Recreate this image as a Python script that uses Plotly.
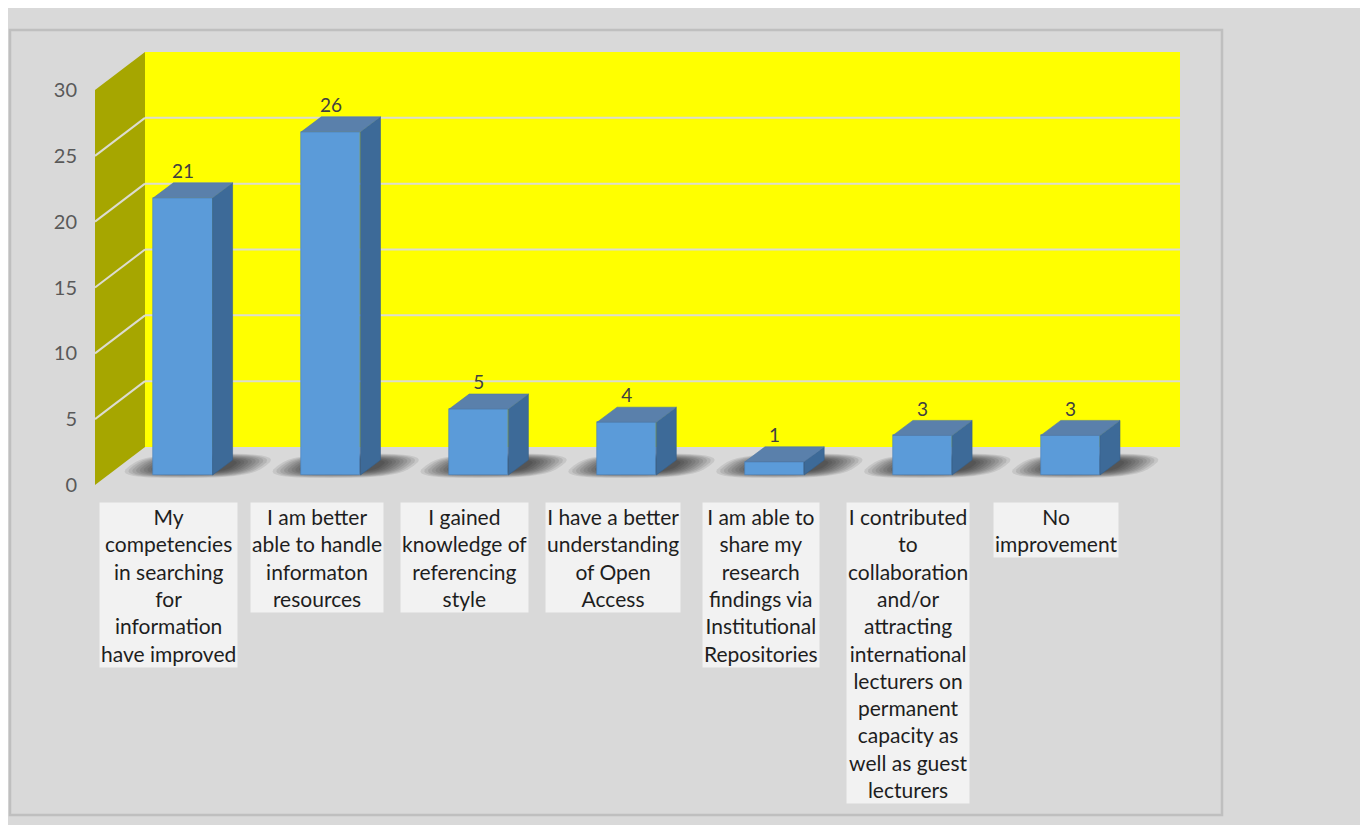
import math
import plotly.graph_objects as go

# ---------------- data ----------------
categories = [
    "My\ncompetencies\nin searching\nfor\ninformation\nhave improved",
    "I am better\nable to handle\ninformaton\nresources",
    "I gained\nknowledge of\nreferencing\nstyle",
    "I have a better\nunderstanding\nof Open\nAccess",
    "I am able to\nshare my\nresearch\nfindings via\nInstitutional\nRepositories",
    "I contributed\nto\ncollaboration\nand/or\nattracting\ninternational\nlecturers on\npermanent\ncapacity as\nwell as guest\nlecturers",
    "No\nimprovement",
]
values = [21, 26, 5, 4, 1, 3, 3]
tick_values = [0, 5, 10, 15, 20, 25, 30]

# ---------------- geometry (layout only) ----------------
W, H, OFF = 1360, 817, 8          # figure size and page body margin
CAT_PX, CAT0_PX = 147.9, 183.0    # px per category, screen px of first category
UNIT_PX, BASE_PX = 13.2, 475.0    # px per value unit, screen px of bar base


def xu(px):
    return (px - CAT0_PX) / CAT_PX


def yu(py):
    return (BASE_PX - py) / UNIT_PX


BAR_W = 0.4
DDX = 20 / CAT_PX
DDY = 15 / UNIT_PX
SHEAR = DDX / DDY

WALL_X0, WALL_X1 = xu(145), xu(1180)
WALL_Y0, WALL_TOP = yu(447), yu(52)
LX, LY0, LY1 = xu(95), yu(485), yu(90)
TMAX = tick_values[-1]
LSTEP = (LY1 - LY0) / TMAX


def wall_y(v):
    return WALL_Y0 + v * (WALL_TOP - WALL_Y0) / TMAX


def left_y(v):
    return LY0 + v * LSTEP


shapes = []
# back wall
shapes.append(dict(type="rect", xref="x", yref="y", x0=WALL_X0, x1=WALL_X1,
                   y0=WALL_Y0, y1=WALL_TOP, fillcolor="#ffff00",
                   line=dict(width=0), layer="below"))
# left wall
shapes.append(dict(type="path", xref="x", yref="y",
                   path=f"M {LX},{LY0} L {WALL_X0},{WALL_Y0} L {WALL_X0},{WALL_TOP} L {LX},{LY1} Z",
                   fillcolor="#a6a600", line=dict(width=0), layer="below"))
# gridlines
for t in tick_values[1:-1]:
    shapes.append(dict(type="line", xref="x", yref="y", x0=WALL_X0, x1=WALL_X1,
                       y0=wall_y(t), y1=wall_y(t),
                       line=dict(color="#dcdcd0", width=2), layer="below"))
    shapes.append(dict(type="line", xref="x", yref="y", x0=LX, x1=WALL_X0,
                       y0=left_y(t), y1=wall_y(t),
                       line=dict(color="#dcdcd0", width=2), layer="below"))


def sheared_blob(cx, cy, rx, ry, n=36, p=3.0):
    pts = []
    for j in range(n):
        a = 2 * math.pi * j / n
        c, s = math.cos(a), math.sin(a)
        ex = rx * math.copysign(abs(c) ** (2 / p), c)
        ey = ry * math.copysign(abs(s) ** (2 / p), s)
        pts.append((cx + ex + SHEAR * ey, cy + ey))
    return "M " + " L ".join(f"{x:.4f},{y:.4f}" for x, y in pts) + " Z"


# soft bar shadows on the floor (layered sheared blobs)
for i, v in enumerate(values):
    for k in range(10):
        rx = 0.46 - k * 0.024
        ry = 0.92 - k * 0.045
        shapes.append(dict(type="path", xref="x", yref="y",
                           path=sheared_blob(i + 0.10, 0.70, rx, ry),
                           fillcolor="rgba(0,0,0,0.085)", line=dict(width=0), layer="below"))
# outer chart border
shapes.append(dict(type="rect", xref="paper", yref="paper",
                   x0=(10 - OFF) / W, x1=(1222 - OFF) / W,
                   y0=1 - (815 - OFF) / H, y1=1 - (30 - OFF) / H,
                   line=dict(color="#bfbfbf", width=2.5), fillcolor="rgba(0,0,0,0)"))

# ---------------- traces ----------------
xs = list(range(len(values)))
fig = go.Figure()
fig.add_trace(go.Bar(x=xs, y=values, width=BAR_W, base=0,
                     marker=dict(color="#5b9bd9", line=dict(color="#4a82bb", width=0.6)),
                     hoverinfo="skip", showlegend=False))

side_x, side_y, top_x, top_y = [], [], [], []
for i, v in enumerate(values):
    xl, xr = i - BAR_W / 2, i + BAR_W / 2
    side_x += [xr, xr + DDX, xr + DDX, xr, xr, None]
    side_y += [0, DDY, v + DDY, v, 0, None]
    top_x += [xl, xr, xr + DDX, xl + DDX, xl, None]
    top_y += [v, v, v + DDY, v + DDY, v, None]

fig.add_trace(go.Scatter(x=side_x, y=side_y, mode="lines", fill="toself",
                         fillcolor="#3d6a98", line=dict(color="#36608a", width=0.6),
                         hoverinfo="skip", showlegend=False))
fig.add_trace(go.Scatter(x=top_x, y=top_y, mode="lines", fill="toself",
                         fillcolor="#5a80ab", line=dict(color="#4f77a3", width=0.6),
                         hoverinfo="skip", showlegend=False))
fig.add_trace(go.Scatter(x=xs, y=[v + DDY for v in values], mode="text",
                         text=[str(v) for v in values], textposition="top center",
                         textfont=dict(family="Lato, sans-serif", size=19, color="#404040"),
                         hoverinfo="skip", showlegend=False))
# invisible anchor trace so the value axis (on the left wall) is rendered
fig.add_trace(go.Scatter(x=[LX] * len(tick_values), y=tick_values, yaxis="y2",
                         mode="markers", marker=dict(opacity=0, size=1),
                         hoverinfo="skip", showlegend=False))

# category labels
annotations = []
for i, c in enumerate(categories):
    annotations.append(dict(x=i - 0.095, y=yu(502), xref="x", yref="y",
                            text=c.replace("\n", "<br>"), showarrow=False,
                            xanchor="center", yanchor="top", align="center",
                            bgcolor="#f2f2f2", borderpad=1,
                            font=dict(family="Lato, sans-serif", size=21, color="#1e1e1e")))

fig.update_layout(
    width=W, height=H, autosize=False,
    margin=dict(l=0, r=0, t=0, b=0),
    paper_bgcolor="#d9d9d9", plot_bgcolor="rgba(0,0,0,0)",
    xaxis=dict(domain=[0, 1], range=[xu(OFF), xu(OFF + W)], visible=False, fixedrange=True),
    yaxis=dict(domain=[0, 1], range=[yu(OFF + H), yu(OFF)], visible=False, fixedrange=True),
    yaxis2=dict(overlaying="y", anchor="free", side="left",
                position=(77 - OFF) / W,
                range=[(yu(OFF + H) - LY0) / LSTEP, (yu(OFF) - LY0) / LSTEP],
                tickvals=tick_values, ticks="", showgrid=False, zeroline=False,
                showline=False, fixedrange=True,
                tickfont=dict(family="Lato, sans-serif", size=20, color="#595959")),
    shapes=shapes, annotations=annotations,
    bargap=0,
)

fig.write_html("out.html")
